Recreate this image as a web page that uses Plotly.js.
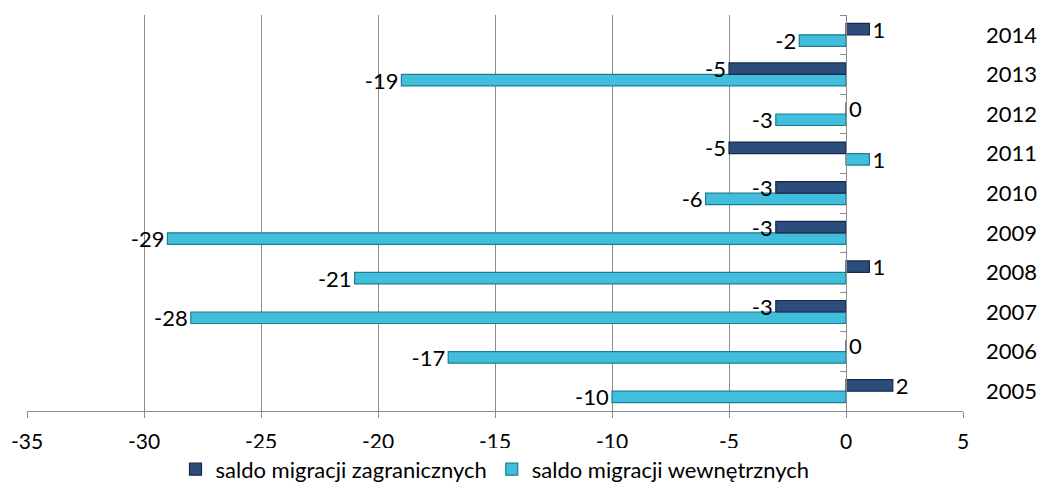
<!DOCTYPE html>
<html><head><meta charset="utf-8">
<script src="https://cdn.plot.ly/plotly-3.0.1.min.js"></script>
<style>body{margin:0;background:#fff}#c{width:1043px;height:493px}</style>
</head><body><div id="c"></div>
<script>
const years = ['2005','2006','2007','2008','2009','2010','2011','2012','2013','2014'];
const zagraniczne = [2, 0, -3, 1, -3, -3, -5, 0, -5, 1];
const wewnetrzne = [-10, -17, -28, -21, -29, -6, 1, -3, -19, -2];
const seriesNames = ['saldo migracji zagranicznych', 'saldo migracji wewnętrznych'];
const xTicks = [-35, -30, -25, -20, -15, -10, -5, 0, 5];

const font = 'Lato, "Open Sans", sans-serif';
const traces = [
  {type:'bar', orientation:'h', name:seriesNames[1], y:years, x:wewnetrzne,
   marker:{color:'#41bedb', line:{color:'#1d7d94', width:1.2}},
   text:wewnetrzne.map(String), textposition:'outside', constraintext:'none', cliponaxis:false,
   textfont:{family:font, size:22, color:'#000'}, hoverinfo:'x+y'},
  {type:'bar', orientation:'h', name:seriesNames[0], y:years, x:zagraniczne,
   marker:{color:'#2c4c7c', line:{color:'#172a48', width:1.2}},
   text:zagraniczne.map(String), textposition:'outside', constraintext:'none', cliponaxis:false,
   textfont:{family:font, size:22, color:'#000'}, hoverinfo:'x+y'},
  {type:'scatter', mode:'none', y:years, x:years.map(()=>0), yaxis:'y2', showlegend:false, hoverinfo:'skip'}
];
const layout = {
  width:1043, height:493,
  margin:{l:27, r:80, t:15, b:82, autoexpand:false},
  paper_bgcolor:'#fff', plot_bgcolor:'#fff',
  barmode:'group', bargap:0.42, bargroupgap:0,
  font:{family:font, size:22, color:'#000'},
  showlegend:true,
  legend:{orientation:'h', x:0.5, xanchor:'center', yref:'container', y:0.048, yanchor:'middle', traceorder:'reversed',
    font:{family:font, size:22, color:'#000'}, itemwidth:30, tracegroupgap:0},
  xaxis:{range:[-35,5], tickvals:xTicks, ticktext:xTicks.map(String), showgrid:true, gridcolor:'#8c8c8c', gridwidth:1,
    zeroline:false, showline:true, linecolor:'#8c8c8c', ticks:'outside', ticklen:6, tickcolor:'#8c8c8c',
    ticklabelstandoff:6, tickfont:{family:font, size:21, color:'#000'}, fixedrange:true, automargin:false},
  yaxis:{type:'category', categoryarray:years, side:'right', showgrid:false, zeroline:false, showline:false,
    ticks:'', ticklabelstandoff:22, tickfont:{family:font, size:22, color:'#000'}, fixedrange:true, automargin:false},
  yaxis2:{type:'category', categoryarray:years, overlaying:'y', matches:'y', anchor:'free', position:0.875, side:'left',
    showline:true, linecolor:'#8c8c8c', ticks:'outside', ticklen:6, tickcolor:'#8c8c8c', tickson:'boundaries',
    showticklabels:false, showgrid:false, zeroline:false, automargin:false}
};
Plotly.newPlot('c', traces, layout, {displayModeBar:false, staticPlot:true});
</script></body></html>
